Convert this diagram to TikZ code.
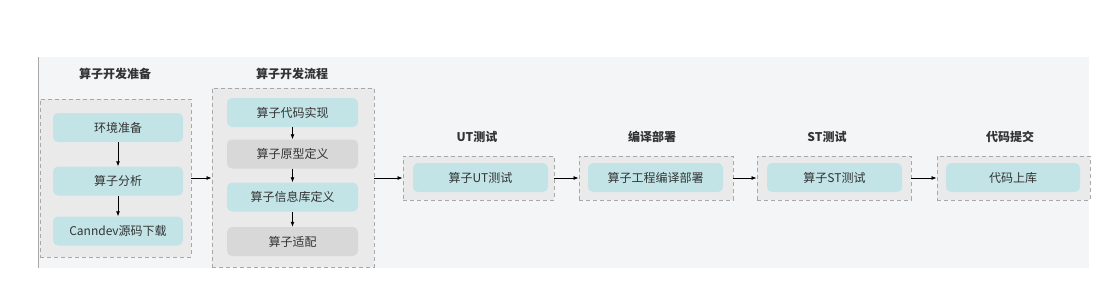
\documentclass[tikz,border=0pt]{standalone}
\usepackage{fontspec}
\setmainfont{Noto Sans CJK SC}
\usetikzlibrary{arrows.meta}
\definecolor{bgc}{HTML}{F4F5F7}
\definecolor{grpfill}{HTML}{EAEAEA}
\definecolor{grpline}{HTML}{A8A8A8}
\definecolor{teal}{HTML}{C2E4E7}
\definecolor{grayb}{HTML}{D8D8D8}
\definecolor{txt}{HTML}{333333}
\tikzset{
  grp/.style={draw=grpline, fill=grpfill, line width=0.9pt, dash pattern=on 4pt off 3pt, inner sep=0pt},
  tbox/.style={fill=teal, rounded corners=5pt, inner sep=0pt, text=txt, font=\fontsize{12}{14}\selectfont},
  gbox/.style={fill=grayb, rounded corners=5pt, inner sep=0pt, text=txt, font=\fontsize{12}{14}\selectfont},
  ttl/.style={text=txt, font=\bfseries\fontsize{12}{14}\selectfont, inner sep=0pt},
  arr/.style={-{Latex[length=5pt,width=4pt]}, line width=0.8pt, draw=black}
}
\begin{document}
\begin{tikzpicture}[x=1pt,y=-1pt]
\useasboundingbox (0,0) rectangle (1110,306);
\fill[white] (0,0) rectangle (1110,306);
\fill[bgc] (38,57) rectangle (1089,268);
\draw[grpline, line width=0.8pt] (38,57) -- (38,268);
% group 1
\node[grp, minimum width=151pt, minimum height=158pt] (g1) at (115.5,178) {};
\node[ttl] (t1) at (115,74) {算子开发准备};
\node[tbox, minimum width=130pt, minimum height=29pt] (a1) at (118,127.5) {环境准备};
\node[tbox, minimum width=130pt, minimum height=29pt] (a2) at (118,181) {算子分析};
\node[tbox, minimum width=130pt, minimum height=29pt] (a3) at (118,231) {Canndev源码下载};
\draw[arr] (a1) -- (a2);
\draw[arr] (a2) -- (a3);
% group 2
\node[grp, minimum width=162pt, minimum height=179pt] (g2) at (293,177.5) {};
\node[ttl] (t2) at (292,74) {算子开发流程};
\node[tbox, minimum width=131pt, minimum height=29pt] (b1) at (292.5,112.5) {算子代码实现};
\node[gbox, minimum width=131pt, minimum height=29pt] (b2) at (292.5,154) {算子原型定义};
\node[tbox, minimum width=131pt, minimum height=29pt] (b3) at (292.5,197) {算子信息库定义};
\node[gbox, minimum width=131pt, minimum height=29pt] (b4) at (292.5,241.5) {算子适配};
\draw[arr] (b1) -- (b2);
\draw[arr] (b2) -- (b3);
\draw[arr] (b3) -- (b4);
% group 3
\node[grp, minimum width=151pt, minimum height=44pt] (g3) at (478.5,178) {};
\node[ttl] (t3) at (477,137) {UT测试};
\node[tbox, minimum width=135pt, minimum height=29pt] (c1) at (480.5,177.5) {算子UT测试};
% group 4
\node[grp, minimum width=154pt, minimum height=44pt] (g4) at (656,178) {};
\node[ttl] (t4) at (652,137) {编译部署};
\node[tbox, minimum width=135pt, minimum height=29pt] (d1) at (655.5,177.5) {算子工程编译部署};
% group 5
\node[grp, minimum width=154pt, minimum height=44pt] (g5) at (834,178) {};
\node[ttl] (t5) at (827,137) {ST测试};
\node[tbox, minimum width=135pt, minimum height=29pt] (e1) at (834.5,177.5) {算子ST测试};
% group 6
\node[grp, minimum width=153pt, minimum height=44pt] (g6) at (1013.5,178) {};
\node[ttl] (t6) at (1010,137) {代码提交};
\node[tbox, minimum width=134pt, minimum height=29pt] (f1) at (1013,177.5) {代码上库};
% connectors
\draw[arr] (g1.east) -- (g2.west |- g1.east);
\draw[arr] (g2.east |- g3.west) -- (g3.west);
\draw[arr] (g3) -- (g4);
\draw[arr] (g4) -- (g5);
\draw[arr] (g5) -- (g6);
\end{tikzpicture}
\end{document}
